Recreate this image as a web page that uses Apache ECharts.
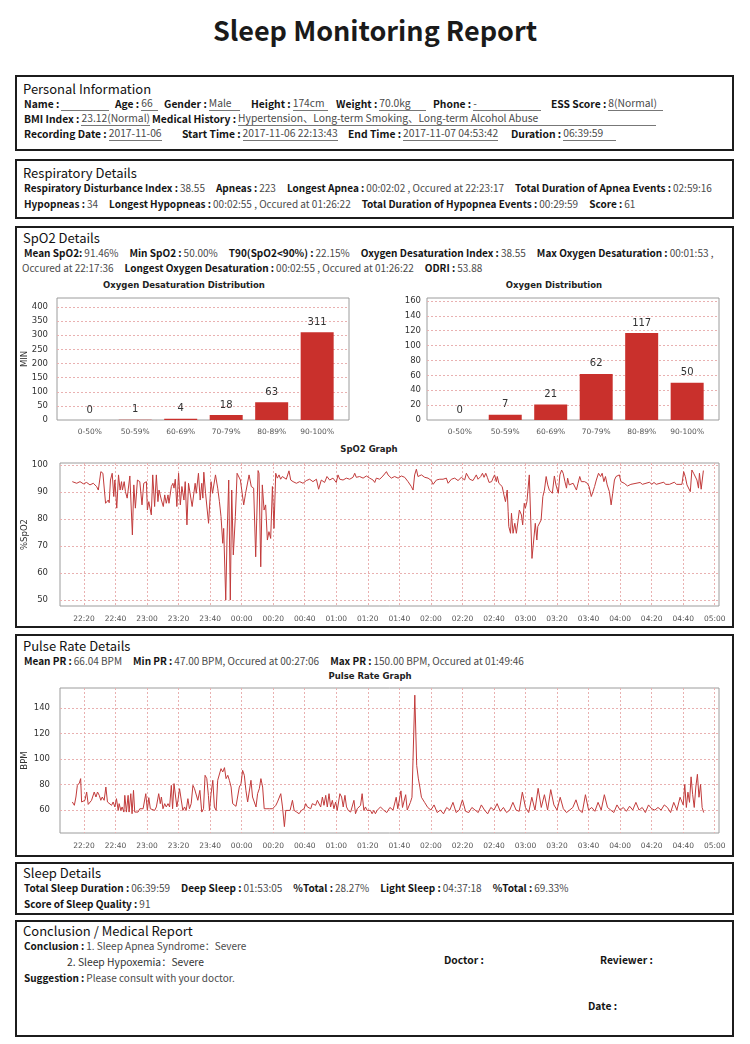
<!DOCTYPE html>
<html><head><meta charset="utf-8">
<script src="https://cdn.jsdelivr.net/npm/echarts@6/dist/echarts.min.js"></script>
<style>
html,body{margin:0;padding:0;background:#fff;}
body{width:750px;height:1044px;position:relative;overflow:hidden;font-family:"Noto Sans CJK SC","Noto Sans",sans-serif;color:#1a1a1a;}
.box{position:absolute;left:15px;width:719px;border:2px solid #1c1c1c;box-sizing:border-box;}
.title{position:absolute;left:0;width:750px;top:10px;text-align:center;font-size:27px;font-weight:700;line-height:40px;}
.hdr{position:absolute;font-size:13px;line-height:18px;white-space:nowrap;color:#111;}
.it,.row{position:absolute;display:flex;align-items:flex-end;font-size:10.3px;line-height:14px;height:14px;white-space:nowrap;}
.row{gap:11px;font-size:10px;}
.row .g{display:flex;align-items:flex-end;}
b{font-weight:700;color:#141414;display:block;height:14px;}
.v{display:block;height:14px;color:#4a4a4a;margin-left:2px;}
.v.u{flex:1;border-bottom:1px solid #777;}
.ct{position:absolute;transform:translateX(-50%);font-family:"DejaVu Sans";font-weight:700;font-size:8.5px;line-height:10px;white-space:nowrap;color:#222;}
#chart{position:absolute;left:0;top:0;width:750px;height:1044px;}
</style></head>
<body>
<div class="title">Sleep Monitoring Report</div>
<div class="box" style="top:75px;height:76px"></div>
<div class="box" style="top:159px;height:60px"></div>
<div class="box" style="top:226px;height:402px"></div>
<div class="box" style="top:634px;height:223px"></div>
<div class="box" style="top:862px;height:53px"></div>
<div class="box" style="top:920px;height:117px"></div>
<div id="txt"></div>
<div id="chart"></div>
<script>
// ---------- data ----------
const distCats = ['0-50%','50-59%','60-69%','70-79%','80-89%','90-100%'];
const desatVals = [0, 1, 4, 18, 63, 311];
const oxyVals = [0, 7, 21, 62, 117, 50];

// minutes after 22:00 on 2017-11-06
const spo2Min = [12.6,15.4,17.5,19.6,21.7,23.8,25.9,28.0,29.1,30.7,32.0,33.7,35.4,36.0,36.8,37.9,38.9,39.6,40.8,41.9,
42.9,43.8,44.4,45.5,46.3,47.4,48.0,49.1,50.7,51.6,52.6,53.9,55.4,56.0,56.8,57.9,59.6,60.2,61.1,62.7,
63.6,64.8,65.9,66.9,67.6,69.1,70.3,71.2,72.2,73.3,73.9,75.4,76.4,77.1,77.9,78.9,80.0,81.1,82.1,83.4,
84.2,85.3,86.3,87.4,88.6,89.5,90.5,91.2,92.6,93.7,94.7,95.4,96.0,97.1,99.0,100.6,101.5,103.4,104.8,105.9,
106.9,108.0,108.6,109.9,110.7,111.8,112.8,113.7,114.7,116.0,117.1,118.1,119.2,120.2,121.3,122.5,124.7,126.1,127.6,128.9,
130.4,131.0,132.1,133.1,134.2,135.2,136.3,137.3,138.4,139.5,140.5,141.6,142.6,143.7,144.7,145.8,146.8,148.3,150.0,151.1,
152.6,154.7,156.8,158.9,161.0,163.1,165.2,167.4,168.8,170.5,172.6,174.1,175.8,177.9,180.0,181.1,182.2,184.3,186.4,188.5,
190.6,191.7,192.7,194.8,197.0,199.1,201.2,203.3,204.4,205.4,207.5,209.6,211.8,212.8,214.9,217.0,219.2,221.3,223.4,225.5,
227.6,228.7,229.7,230.8,231.8,234.0,236.1,238.2,240.3,241.4,243.5,245.6,247.7,249.8,250.9,253.0,255.1,257.2,259.3,261.4,
262.5,264.6,266.7,268.8,269.9,271.6,272.7,273.7,274.8,275.8,276.9,278.5,279.4,280.4,281.5,282.1,283.1,284.2,285.2,286.3,
287.3,288.4,289.0,289.4,290.5,291.1,292.1,293.2,294.2,295.3,296.1,297.4,298.2,299.2,299.9,300.9,301.5,302.4,303.4,304.1,
305.1,306.2,307.2,307.8,308.9,309.9,311.0,312.0,313.1,314.1,315.1,316.2,317.0,318.3,319.3,320.8,321.8,322.9,323.9,325.0,
326.0,326.7,327.7,328.7,330.2,331.3,332.3,333.3,334.4,335.4,337.5,339.2,340.3,341.7,342.8,343.8,344.9,346.3,347.6,348.6,
349.7,350.7,351.8,353.2,354.3,355.3,356.4,357.4,358.5,359.5,360.5,362.6,364.7,365.8,366.8,372.7,374.1,378.7,380.0,381.5,
382.9,387.7,388.8,389.8,391.3,394.4,395.7,399.2,400.3,401.3,402.4,403.4,404.5,405.5,406.6,407.6,408.7,409.7,410.3,411.4,
411.8,412.8];
const spo2Val = [93.8,93.2,93.8,93.0,93.5,92.6,93.2,92.0,90.7,97.5,96.9,85.8,87.0,86.0,94.4,96.9,88.3,94.4,84.0,96.3,
90.7,93.8,90.7,93.8,90.1,87.7,87.0,95.9,74.1,92.6,84.0,94.4,93.8,94.4,85.2,93.2,93.8,83.3,86.4,81.5,
96.3,84.6,96.3,86.4,90.7,87.0,84.6,88.9,85.8,88.9,85.8,92.0,93.2,91.4,94.7,84.6,96.9,85.2,92.0,87.0,
93.8,77.8,93.2,93.8,84.6,84.0,93.2,89.5,96.9,87.0,93.2,87.7,97.3,89.5,78.4,93.8,89.5,96.3,91.4,86.4,
80.9,71.0,76.5,50.0,72.2,94.4,50.0,90.7,66.7,80.9,96.9,97.3,94.4,95.1,85.2,89.5,96.3,92.0,91.4,66.0,
97.9,96.9,62.3,92.6,83.3,85.2,72.2,75.3,72.8,92.0,76.5,96.9,95.1,96.3,94.7,95.7,96.3,94.7,97.8,94.4,
93.8,93.2,93.8,93.2,94.2,94.7,93.8,94.7,91.0,94.4,93.5,95.7,94.4,95.1,93.5,96.3,94.7,94.4,95.1,94.7,
95.4,96.9,95.4,95.7,95.1,95.9,95.1,94.4,93.5,95.1,94.7,95.9,97.5,96.3,95.1,95.7,95.1,95.9,95.4,93.8,
92.0,90.7,96.3,98.4,95.7,96.3,95.4,95.1,94.2,92.8,94.4,94.7,94.7,95.1,93.2,94.7,95.1,94.2,95.4,94.4,
96.9,94.7,94.2,96.3,94.7,95.7,96.9,95.4,96.9,95.4,93.5,93.8,95.1,96.3,93.8,95.7,93.2,93.5,92.0,88.9,
86.4,90.7,82.7,77.2,74.7,82.1,74.7,78.4,74.7,79.6,83.3,81.5,77.8,85.8,84.0,86.4,85.8,96.3,96.3,65.4,
66.0,78.4,72.2,77.2,77.4,79.6,88.3,90.7,95.7,92.6,90.7,90.1,89.5,95.9,92.6,89.5,96.3,98.1,96.9,93.8,
91.4,95.1,92.6,92.6,93.2,92.6,90.7,93.2,95.7,93.8,93.8,93.2,92.0,88.3,90.1,92.0,94.4,96.9,95.7,96.9,
93.8,95.7,92.6,90.1,85.2,89.5,94.4,95.7,95.9,96.3,93.8,93.2,92.2,92.6,92.8,93.5,92.8,93.6,92.8,93.5,
92.8,93.6,92.8,93.5,92.8,93.6,92.8,92.8,97.5,95.7,92.6,92.0,90.1,98.1,96.9,96.3,94.4,91.4,96.9,91.0,
90.4,97.9];

const prMin = [12.6,13.9,14.9,15.8,17.1,17.9,18.5,19.6,20.6,21.7,22.7,23.8,24.8,26.5,27.6,28.6,29.7,30.7,31.6,32.8,
33.9,34.9,36.0,37.5,38.5,39.6,40.6,41.7,42.3,43.4,44.2,45.3,45.9,46.9,48.0,48.6,49.7,50.5,51.4,52.2,
53.3,54.3,55.4,56.4,57.5,58.5,59.2,60.2,61.1,62.1,63.2,64.8,65.9,67.4,68.4,69.1,70.1,71.2,72.2,73.3,
74.3,75.4,76.2,77.1,77.9,78.9,79.6,80.6,81.7,82.7,83.8,84.8,85.9,86.9,88.0,89.1,90.1,91.2,92.2,93.5,
94.7,95.8,96.8,97.9,98.9,99.6,100.6,101.7,102.7,103.8,104.8,105.9,106.9,108.0,109.1,110.1,111.2,112.2,113.3,114.3,
115.4,116.4,117.5,118.5,119.6,120.6,121.7,122.7,123.8,124.8,125.9,126.9,128.0,129.1,130.1,131.2,132.2,133.3,134.3,136.0,
137.5,138.5,139.6,140.6,141.7,142.7,143.8,144.8,145.9,147.1,148.0,149.1,150.7,152.2,153.3,154.9,156.4,157.9,159.6,160.6,
161.7,163.8,164.8,166.9,168.0,169.1,170.1,171.2,172.2,173.3,174.3,175.4,176.4,177.5,178.5,179.6,180.6,182.3,183.4,184.4,
185.5,186.5,187.6,189.1,190.1,191.2,192.2,193.3,194.3,195.4,196.4,197.5,198.5,199.6,200.6,201.7,202.7,203.8,204.8,205.9,
206.9,208.0,209.1,210,212,214,216,218,219,221,222,224,225,227,228,229.8,231,232,233,234,
236,238,240,242,244,246,248,250,252,254,256,258,260,262,264,266,268,270,272,274,
276,278,280,282,284,286,288,290,292,294,296,298,300,302,304,306,308,310,312,314,
316,318,320,322,324,326,328,330,332,334,336,338,340,342,344,346,348,350,352,354,
356,358,360,362,364,366,368,370,372,374,376,378,380,382,384,386,388,390,392,394,
396,398,400,401,402,403,404,405,406,407,408,409,410,411,412,413];
const prVal = [66.3,63.7,70.2,79.3,81.2,84.6,66.3,65.0,67.6,74.1,64.4,63.7,67.6,74.1,70.2,74.1,71.5,67.6,70.2,67.6,
78.0,66.3,67.6,63.7,66.3,62.4,68.9,59.7,65.0,59.7,62.4,58.4,71.5,58.4,71.5,58.4,72.8,57.1,75.4,58.4,
59.7,58.4,61.0,59.7,61.0,62.4,72.8,59.7,69.7,61.0,62.4,59.7,62.4,72.8,65.0,70.2,61.0,65.0,62.4,65.0,
62.4,79.3,61.0,80.7,79.3,62.4,67.6,76.7,75.4,59.7,62.4,59.7,68.9,61.0,65.0,79.3,76.7,78.0,67.6,75.4,
58.4,61.0,87.2,84.6,71.5,59.7,72.8,83.3,62.4,59.7,83.3,84.6,92.4,89.8,93.2,84.6,87.2,83.3,78.0,65.0,
63.7,62.9,62.4,78.0,80.7,91.1,87.2,75.4,66.3,65.0,83.3,70.2,66.3,62.4,72.8,76.7,84.6,78.0,61.0,61.0,
61.0,60.5,61.0,62.4,63.7,66.3,67.6,72.8,62.4,47.0,59.7,58.4,59.7,67.6,59.7,58.4,57.1,59.7,61.0,65.0,
62.4,61.0,65.0,63.7,67.6,66.3,62.4,70.2,63.7,71.5,62.4,72.8,62.4,67.6,61.0,66.3,59.7,72.8,70.2,62.4,
71.5,62.4,59.7,58.4,59.7,67.6,57.1,61.0,59.7,63.7,72.8,59.7,62.4,59.7,58.4,59.7,57.1,59.7,57.1,59.7,
58.4,62.4,62.4,60,58,62,60,70,61,75,62,72,60,66,70,150,95,85,78,70,
66,62,60,64,58,60,57,62,60,66,58,60,68,59,58,62,60,58,64,60,
57,62,60,65,59,62,58,60,66,60,59,74,62,58,70,60,77,62,72,60,
76,64,60,70,61,58,60,62,68,60,58,72,60,62,59,66,60,72,62,60,
58,64,60,62,59,63,60,66,60,62,58,64,61,60,62,60,64,62,58,66,
60,70,64,80,62,74,66,86,72,62,78,88,70,80,62,58];

// ---------- text ----------
const headers = [
  [23, 89, 'Personal Information'], [23, 173, 'Respiratory Details'], [23, 238, 'SpO2 Details'],
  [23, 646, 'Pulse Rate Details'], [23, 873, 'Sleep Details'], [23, 931, 'Conclusion / Medical Report']
];
// personal info: [x, yCenter, label, value, underlineEnd]
const items = [
  [24,104,'Name :','',109],[115,104,'Age :','66',158],[164,104,'Gender :','Male',240],[251,104,'Height :','174cm',328],
  [336,104,'Weight :','70.0kg',426],[433,104,'Phone :','-',541],[551,104,'ESS Score :','8(Normal)',663],
  [24,119,'BMI Index :','23.12(Normal)',143],[152,119,'Medical History :','Hypertension、Long-term Smoking、Long-term Alcohol Abuse',656],
  [24,134,'Recording Date :','2017-11-06',162],[182,134,'Start Time :','2017-11-06 22:13:43',338],
  [348,134,'End Time :','2017-11-07 04:53:42',498],[511,134,'Duration :','06:39:59',616],
  [67,962,'','2. Sleep Hypoxemia：Severe'],
  [444,960,'Doctor :',''],[600,960,'Reviewer :',''],[588,1006,'Date :','']
];
// flowing rows: [x, yCenter, [[label, value], ...]]
const rows = [
  [24,188,[['Respiratory Disturbance Index :','38.55'],['Apneas :','223'],['Longest Apnea :','00:02:02 , Occured at 22:23:17'],['Total Duration of Apnea Events :','02:59:16']]],
  [24,204,[['Hypopneas :','34'],['Longest Hypopneas :','00:02:55 , Occured at 01:26:22'],['Total Duration of Hypopnea Events :','00:29:59'],['Score :','61']]],
  [24,253,[['Mean SpO2:','91.46%'],['Min SpO2 :','50.00%'],['T90(SpO2<90%) :','22.15%'],['Oxygen Desaturation Index :','38.55'],['Max Oxygen Desaturation :','00:01:53 ,']]],
  [22,268,[['','Occured at 22:17:36'],['Longest Oxygen Desaturation :','00:02:55 , Occured at 01:26:22'],['ODRI :','53.88']]],
  [24,661,[['Mean PR :','66.04 BPM'],['Min PR :','47.00 BPM, Occured at 00:27:06'],['Max PR :','150.00 BPM, Occured at 01:49:46']]],
  [24,888,[['Total Sleep Duration :','06:39:59'],['Deep Sleep :','01:53:05'],['%Total :','28.27%'],['Light Sleep :','04:37:18'],['%Total :','69.33%']]],
  [24,904,[['Score of Sleep Quality :','91']]],
  [24,946,[['Conclusion :','1. Sleep Apnea Syndrome：Severe']]],
  [24,978,[['Suggestion :','Please consult with your doctor.']]]
];
const chartTitles = [[184,285,'Oxygen Desaturation Distribution'],[554,285,'Oxygen Distribution'],[369,449,'SpO2 Graph'],[370,676,'Pulse Rate Graph']];

const esc = s => s.replace(/&/g,'&amp;').replace(/</g,'&lt;');
let html = '';
headers.forEach(h => { html += `<div class="hdr" style="left:${h[0]}px;top:${h[1]-9}px">${h[2]}</div>`; });
items.forEach(it => {
  const w = it[4] ? `width:${it[4]-it[0]}px;` : '';
  const lab = it[2] ? `<b>${esc(it[2])}</b>` : '';
  const val = (it[3] || it[4]) ? `<span class="v ${it[4]?'u':''}" style="${it[2]?'':'margin-left:0;color:#333'}">${esc(it[3])}</span>` : '';
  html += `<div class="it" style="left:${it[0]}px;top:${it[1]-7}px;${w}">${lab}${val}</div>`;
});
rows.forEach(r => {
  let inner = '';
  r[2].forEach(p => {
    inner += `<div class="g">${p[0] ? `<b>${esc(p[0])}</b>` : ''}<span class="v" style="${p[0]?'':'margin-left:0'}">${esc(p[1])}</span></div>`;
  });
  html += `<div class="row" style="left:${r[0]}px;top:${r[1]-7}px">${inner}</div>`;
});
chartTitles.forEach(t => { html += `<div class="ct" style="left:${t[0]}px;top:${t[1]-5}px">${t[2]}</div>`; });
document.getElementById('txt').innerHTML = html;

// ---------- chart ----------
const base = new Date(2017, 10, 6, 22, 0, 0).getTime();
const toT = m => base + Math.round(m * 60000);
const spo2Data = spo2Min.map((m, i) => [toT(m), spo2Val[i]]);
const prData = prMin.map((m, i) => [toT(m), prVal[i]]);
const desatData = desatVals.map((v, i) => [i, v]);
const oxyData = oxyVals.map((v, i) => [i, v]);

const FF = 'DejaVu Sans';
const RED = '#c9302c';
const LINE = '#c23b3b';
const split = {show:true, showMinLine:false, showMaxLine:false, lineStyle:{color:'#e9b1b1', type:[2,2], width:1}};
const gridBase = {show:true, borderColor:'#9c9c9c', borderWidth:1, backgroundColor:'#fff', containLabel:false};
const pad = n => (n < 10 ? '0' : '') + n;
const catFmt = v => { const r = Math.round(v); return Math.abs(v - r) < 1e-6 && r >= 0 && r < distCats.length ? distCats[r] : ''; };
const stepFmt = s => v => (Math.abs(v / s - Math.round(v / s)) < 1e-6 ? String(Math.round(v)) : '');
const timeFmt = v => { const d = new Date(v); return (d.getMinutes() % 20 === 0 && d.getSeconds() === 0) ? pad(d.getHours()) + ':' + pad(d.getMinutes()) : ''; };

const catAxis = (gi) => ({gridIndex:gi, type:'value', min:-0.72, max:5.7, minInterval:1, maxInterval:1,
  axisLine:{show:false}, axisTick:{show:false}, splitLine:{show:false},
  axisLabel:{formatter:catFmt, fontSize:7.5, color:'#555', margin:8, fontFamily:FF}});
const timeAxis = (gi) => ({gridIndex:gi, type:'time', min:toT(4.8), max:toT(422.7),
  minInterval:20.5*60000, maxInterval:20.5*60000,
  axisLine:{show:false}, axisTick:{show:false}, splitLine:split,
  axisLabel:{formatter:timeFmt, fontSize:7.5, color:'#555', margin:9, fontFamily:FF}});
const valAxis = (gi, min, max, step, margin, name, nameGap) => ({gridIndex:gi, type:'value', min, max, minInterval:step, maxInterval:step,
  axisLine:{show:false}, axisTick:{show:false}, splitLine:split,
  name: name || '', nameLocation:'middle', nameGap: nameGap || 30, nameMoveOverlap:false,
  nameTextStyle:{fontSize:8.5, color:'#333', fontFamily:FF},
  axisLabel:{formatter:stepFmt(step), fontSize:8.5, color:'#333', margin, fontFamily:FF}});

const chart = echarts.init(document.getElementById('chart'), null, {renderer:'canvas', width:750, height:1044});
chart.setOption({
  animation:false,
  grid:[
    Object.assign({left:57, top:298, width:292, height:122}, gridBase),
    Object.assign({left:427, top:298, width:292, height:122}, gridBase),
    Object.assign({left:60, top:463, width:659, height:143}, gridBase),
    Object.assign({left:60, top:688, width:659, height:145}, gridBase)
  ],
  xAxis:[catAxis(0), catAxis(1), timeAxis(2), timeAxis(3)],
  yAxis:[
    valAxis(0, 0, 432, 50, 9, 'MIN', 28),
    valAxis(1, 0, 164, 20, 6),
    valAxis(2, 47.8, 100.7, 10, 12, '%SpO2', 31),
    valAxis(3, 42, 155.6, 20, 10, 'BPM', 31)
  ],
  series:[
    {type:'bar', xAxisIndex:0, yAxisIndex:0, data:desatData, barWidth:33, itemStyle:{color:RED},
      label:{show:true, position:'top', distance:5, fontSize:10, color:'#333', fontFamily:FF, formatter:p => p.value[1]}},
    {type:'bar', xAxisIndex:1, yAxisIndex:1, data:oxyData, barWidth:33, itemStyle:{color:RED},
      label:{show:true, position:'top', distance:5, fontSize:10, color:'#333', fontFamily:FF, formatter:p => p.value[1]}},
    {type:'line', xAxisIndex:2, yAxisIndex:2, data:spo2Data, symbol:'none', lineStyle:{color:LINE, width:1}, itemStyle:{color:LINE}},
    {type:'line', xAxisIndex:3, yAxisIndex:3, data:prData, symbol:'none', lineStyle:{color:LINE, width:1}, itemStyle:{color:LINE}}
  ]
});
</script>
</body></html>
